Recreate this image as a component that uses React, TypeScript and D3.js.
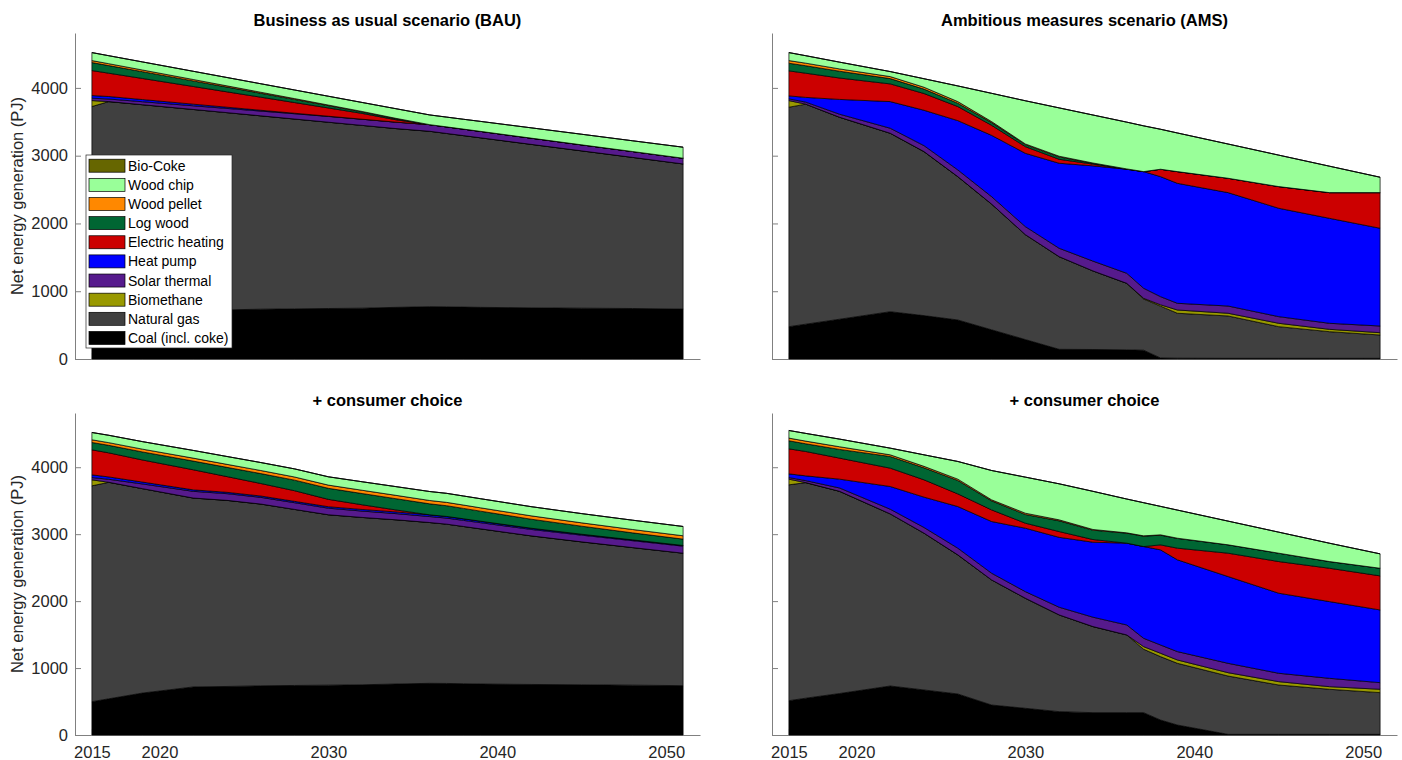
import React, { useEffect, useRef } from 'react'
import * as d3 from 'd3'

// time steps of the model runs
const YEARS = [2016, 2017, 2019, 2022, 2024, 2026, 2028, 2030, 2032, 2034, 2036, 2037, 2038, 2039, 2042, 2045, 2048, 2051]

const SERIES = ['Coal (incl. coke)', 'Natural gas', 'Biomethane', 'Solar thermal', 'Heat pump', 'Electric heating', 'Log wood', 'Wood pellet', 'Wood chip', 'Bio-Coke']
const COLORS = ['#000000', '#404040', '#999900', '#561a8c', '#0000ff', '#cc0000', '#006633', '#ff8800', '#99ff99', '#666600']

const Y_TICKS = [0, 1000, 2000, 3000, 4000]
const X_TICKS = [2016, 2020, 2030, 2040, 2050]
const X_TICK_LABELS = ['2015', '2020', '2030', '2040', '2050']

const TITLES = ['Business as usual scenario (BAU)', 'Ambitious measures scenario (AMS)', '+ consumer choice', '+ consumer choice']

// Business as usual (PJ)
const BAU_COAL = [498, 541, 627, 718, 725, 735, 740, 745, 750, 762, 772, 770, 766, 762, 755, 750, 745, 737]
const BAU_GAS = [3227, 3257, 3125, 2964, 2910, 2853, 2801, 2749, 2697, 2638, 2588, 2558, 2530, 2502, 2412, 2321, 2230, 2141]
const BAU_BIOMETHANE = [88, 0, 0, 0, 0, 0, 0, 0, 0, 0, 0, 0, 0, 0, 0, 0, 0, 0]
const BAU_SOLAR = [35, 38, 44, 54, 62, 70, 78, 85, 91, 95, 98, 97, 96, 95, 92, 89, 87, 85]
const BAU_HEATPUMP = [39, 37, 32, 24, 18, 12, 7, 3, 0, 0, 0, 0, 0, 0, 0, 0, 0, 0]
const BAU_ELECTRIC = [369, 344, 311, 261, 227, 193, 158, 122, 86, 35, 0, 0, 0, 0, 0, 0, 0, 0]
const BAU_LOGWOOD = [118, 112, 100, 82, 70, 58, 46, 34, 22, 15, 0, 0, 0, 0, 0, 0, 0, 0]
const BAU_PELLET = [29, 28, 25, 21, 18, 15, 12, 9, 6, 6, 0, 0, 0, 0, 0, 0, 0, 0]
const BAU_CHIP = [118, 118, 119, 121, 123, 125, 127, 130, 133, 142, 143, 144, 145, 147, 152, 156, 158, 162]
const BAU_BIOCOKE = [0, 0, 0, 0, 0, 0, 0, 0, 0, 0, 0, 0, 0, 0, 0, 0, 0, 0]

// Ambitious measures
const AMS_COAL = [477, 514, 587, 698, 640, 576, 431, 287, 143, 140, 135, 130, 15, 12, 10, 10, 10, 10]
const AMS_GAS = [3238, 3246, 2980, 2633, 2420, 2115, 1855, 1548, 1367, 1160, 982, 756, 765, 663, 625, 467, 393, 344]
const AMS_BIOMETHANE = [98, 0, 0, 0, 0, 0, 0, 0, 0, 0, 0, 10, 20, 48, 40, 50, 35, 34]
const AMS_SOLAR = [25, 30, 45, 74, 88, 99, 110, 118, 124, 145, 148, 148, 120, 99, 107, 98, 89, 99]
const AMS_HEATPUMP = [44, 70, 218, 393, 522, 727, 904, 1082, 1254, 1405, 1535, 1721, 1771, 1770, 1673, 1599, 1549, 1442]
const AMS_ELECTRIC = [369, 357, 316, 261, 247, 208, 148, 98, 59, 25, 0, 0, 109, 173, 212, 320, 379, 526]
const AMS_LOGWOOD = [113, 110, 100, 78, 65, 49, 40, 30, 35, 12, 5, 0, 0, 0, 0, 0, 0, 0]
const AMS_PELLET = [39, 38, 34, 30, 28, 24, 15, 10, 10, 5, 0, 0, 0, 0, 0, 0, 0, 0]
const AMS_CHIP = [118, 110, 100, 74, 125, 231, 417, 637, 713, 708, 690, 675, 590, 570, 505, 464, 390, 227]
const AMS_BIOCOKE = [0, 0, 0, 0, 0, 0, 0, 0, 0, 0, 0, 0, 0, 0, 0, 0, 0, 0]

// BAU + consumer choice
const BAUCC_COAL = [498, 541, 627, 718, 725, 735, 740, 745, 750, 762, 772, 770, 766, 762, 755, 750, 745, 737]
const BAUCC_GAS = [3224, 3234, 3053, 2822, 2780, 2715, 2630, 2545, 2500, 2453, 2402, 2380, 2349, 2318, 2220, 2135, 2055, 1979]
const BAUCC_BIOMETHANE = [90, 0, 0, 0, 0, 0, 0, 0, 0, 0, 0, 0, 0, 0, 0, 0, 0, 0]
const BAUCC_SOLAR = [34, 45, 70, 100, 100, 100, 100, 98, 95, 92, 89, 90, 91, 92, 96, 100, 103, 105]
const BAUCC_HEATPUMP = [40, 35, 28, 22, 20, 20, 20, 22, 24, 25, 26, 25, 24, 22, 18, 14, 12, 10]
const BAUCC_ELECTRIC = [374, 360, 330, 300, 235, 187, 159, 110, 70, 30, 0, 0, 0, 0, 0, 0, 0, 0]
const BAUCC_LOGWOOD = [110, 112, 120, 130, 138, 148, 158, 165, 168, 168, 164, 160, 155, 150, 135, 120, 105, 95]
const BAUCC_PELLET = [40, 40, 42, 44, 45, 46, 47, 48, 49, 50, 50, 50, 50, 50, 50, 50, 50, 50]
const BAUCC_CHIP = [109, 110, 112, 115, 117, 119, 121, 124, 127, 130, 134, 135, 135, 136, 137, 138, 139, 139]
const BAUCC_BIOCOKE = [0, 0, 0, 0, 0, 0, 0, 0, 0, 0, 0, 0, 0, 0, 0, 0, 0, 0]

// AMS + consumer choice
const AMSCC_COAL = [513, 550, 620, 732, 673, 613, 448, 399, 349, 334, 334, 334, 224, 149, 10, 10, 10, 10]
const AMSCC_GAS = [3224, 3220, 3020, 2571, 2342, 2078, 1869, 1644, 1445, 1286, 1161, 947, 947, 922, 871, 737, 673, 623]
const AMSCC_BIOMETHANE = [85, 0, 0, 0, 0, 0, 0, 0, 0, 0, 0, 39, 50, 50, 50, 50, 39, 50]
const AMSCC_SOLAR = [24, 30, 50, 70, 85, 100, 100, 99, 115, 140, 149, 125, 124, 125, 140, 125, 125, 99]
const AMSCC_HEATPUMP = [55, 71, 132, 339, 453, 622, 772, 947, 1044, 1120, 1222, 1370, 1421, 1371, 1296, 1196, 1146, 1086]
const AMSCC_ELECTRIC = [374, 364, 314, 274, 259, 189, 174, 75, 86, 40, 0, 0, 74, 174, 349, 473, 498, 509]
const AMSCC_LOGWOOD = [120, 115, 130, 174, 179, 200, 135, 130, 160, 140, 149, 155, 145, 145, 125, 125, 100, 114]
const AMSCC_PELLET = [40, 40, 40, 25, 22, 20, 15, 19, 15, 10, 5, 5, 5, 4, 0, 0, 0, 0]
const AMSCC_CHIP = [114, 115, 114, 100, 172, 264, 438, 539, 538, 570, 505, 495, 425, 420, 354, 314, 274, 215]
const AMSCC_BIOCOKE = [0, 0, 0, 0, 0, 0, 0, 0, 0, 0, 0, 0, 0, 0, 0, 0, 0, 0]

type Row = { year: number; [key: string]: number }

function buildRows(cols: number[][]): Row[] {
  return YEARS.map((year, i) => {
    const row: Row = { year }
    SERIES.forEach((s, j) => {
      row[s] = cols[j][i]
    })
    return row
  })
}

const BAU = buildRows([BAU_COAL, BAU_GAS, BAU_BIOMETHANE, BAU_SOLAR, BAU_HEATPUMP, BAU_ELECTRIC, BAU_LOGWOOD, BAU_PELLET, BAU_CHIP, BAU_BIOCOKE])
const AMS = buildRows([AMS_COAL, AMS_GAS, AMS_BIOMETHANE, AMS_SOLAR, AMS_HEATPUMP, AMS_ELECTRIC, AMS_LOGWOOD, AMS_PELLET, AMS_CHIP, AMS_BIOCOKE])
const BAUCC = buildRows([BAUCC_COAL, BAUCC_GAS, BAUCC_BIOMETHANE, BAUCC_SOLAR, BAUCC_HEATPUMP, BAUCC_ELECTRIC, BAUCC_LOGWOOD, BAUCC_PELLET, BAUCC_CHIP, BAUCC_BIOCOKE])
const AMSCC = buildRows([AMSCC_COAL, AMSCC_GAS, AMSCC_BIOMETHANE, AMSCC_SOLAR, AMSCC_HEATPUMP, AMSCC_ELECTRIC, AMSCC_LOGWOOD, AMSCC_PELLET, AMSCC_CHIP, AMSCC_BIOCOKE])

const FONT = '"Liberation Sans", Arial, Helvetica, sans-serif'
const AXIS_GRAY = '#808080'
const TEXT_GRAY = '#262626'

export default function App() {
  const svgRef = useRef<SVGSVGElement>(null)

  useEffect(() => {
    if (!svgRef.current) return
    const svg = d3.select(svgRef.current)
    svg.selectAll('*').remove()

    const panels = [
      { data: BAU, title: TITLES[0], left: 75, top: 33, bottom: 359, yLabels: true, xLabels: false, legend: true },
      { data: AMS, title: TITLES[1], left: 772, top: 33, bottom: 359, yLabels: false, xLabels: false, legend: false },
      { data: BAUCC, title: TITLES[2], left: 75, top: 413, bottom: 735, yLabels: true, xLabels: true, legend: false },
      { data: AMSCC, title: TITLES[3], left: 772, top: 413, bottom: 735, yLabels: false, xLabels: true, legend: false },
    ]
    const plotWidth = 625

    const stack = d3.stack<Row>().keys(SERIES)

    panels.forEach((p) => {
      const x = d3.scaleLinear().domain([2015, 2052]).range([p.left, p.left + plotWidth])
      const y = d3.scaleLinear().domain([0, 4810]).range([p.bottom, p.top])
      const g = svg.append('g').style('font-family', FONT)

      // axes sit underneath the areas
      const yAxis = g
        .append('g')
        .attr('transform', `translate(${p.left},0)`)
        .call(
          d3
            .axisLeft(y)
            .tickValues(Y_TICKS)
            .tickSizeInner(-6)
            .tickSizeOuter(0)
            .tickPadding(7)
            .tickFormat((d) => (p.yLabels ? String(d) : ''))
        )
      const xAxis = g
        .append('g')
        .attr('transform', `translate(0,${p.bottom})`)
        .call(
          d3
            .axisBottom(x)
            .tickValues(X_TICKS)
            .tickSizeInner(-6)
            .tickSizeOuter(0)
            .tickPadding(11)
            .tickFormat((d, i) => (p.xLabels ? X_TICK_LABELS[i] : ''))
        )
      ;[yAxis, xAxis].forEach((a) => {
        a.select('.domain').attr('stroke', AXIS_GRAY)
        a.selectAll('.tick line').attr('stroke', AXIS_GRAY)
        a.selectAll('.tick text').style('font-size', '16.5px').style('font-family', FONT).attr('fill', TEXT_GRAY)
      })

      const layers = stack(p.data)
      const area = d3
        .area<d3.SeriesPoint<Row>>()
        .x((d) => x(d.data.year))
        .y0((d) => y(d[0]))
        .y1((d) => y(d[1]))

      g.selectAll('path.layer')
        .data(layers)
        .join('path')
        .attr('class', 'layer')
        .attr('d', (d) => area(d) || '')
        .attr('fill', (d, i) => COLORS[i])
        .attr('stroke', '#000')
        .attr('stroke-width', 0.7)
        .attr('stroke-linejoin', 'round')

      g.append('text')
        .attr('x', p.left + plotWidth / 2)
        .attr('y', p.top - 7)
        .attr('text-anchor', 'middle')
        .style('font-size', '16.5px')
        .style('font-weight', 'bold')
        .attr('fill', '#000')
        .text(p.title)

      if (p.yLabels) {
        const cy = (p.top + p.bottom) / 2
        g.append('text')
          .attr('transform', `translate(23,${cy}) rotate(-90)`)
          .attr('text-anchor', 'middle')
          .style('font-size', '16.5px')
          .attr('fill', TEXT_GRAY)
          .text('Net energy generation (PJ)')
      }

      if (p.legend) {
        const lg = g.append('g')
        lg.append('rect')
          .attr('x', 86)
          .attr('y', 155)
          .attr('width', 146)
          .attr('height', 193)
          .attr('fill', '#fff')
          .attr('stroke', TEXT_GRAY)
          .attr('stroke-width', 0.7)
        const order = SERIES.map((s, i) => ({ name: s, color: COLORS[i] })).reverse()
        order.forEach((item, i) => {
          const cy = 165.7 + i * 19.14
          lg.append('rect')
            .attr('x', 89)
            .attr('y', cy - 6.5)
            .attr('width', 36)
            .attr('height', 13)
            .attr('fill', item.color)
            .attr('stroke', '#000')
            .attr('stroke-width', 0.7)
          lg.append('text')
            .attr('x', 128)
            .attr('y', cy + 5)
            .style('font-size', '14px')
            .attr('fill', '#000')
            .text(item.name)
        })
      }
    })
  }, [])

  return (
    <div style={{ position: 'absolute', left: 0, top: 0 }}>
      <svg ref={svgRef} width={1402} height={760} style={{ display: 'block', background: '#fff' }} />
    </div>
  )
}
